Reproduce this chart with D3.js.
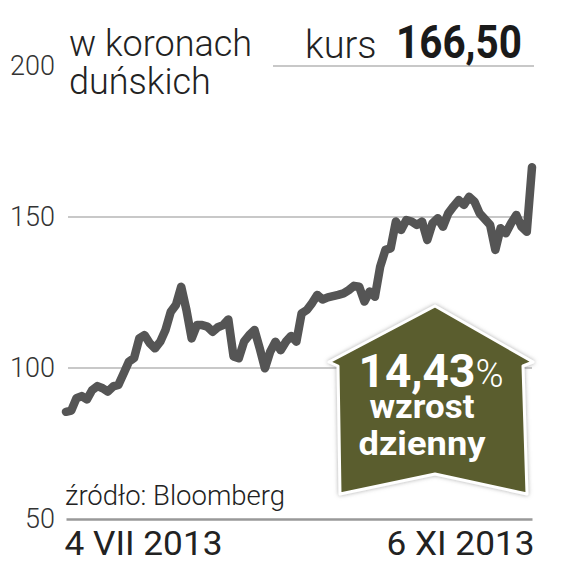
<!DOCTYPE html>
<html>
<head>
<meta charset="utf-8">
<script src="https://cdn.jsdelivr.net/npm/d3@7"></script>
<style>
  body { margin: 0; background: #fff; }
  svg { display: block; }
  text { font-family: Roboto, "DejaVu Sans", sans-serif; }
</style>
</head>
<body>
<div id="chart"></div>
<script>
// daily close, DKK, 4 VII 2013 .. 6 XI 2013
const values = [
  85.5, 85.9, 90.0, 90.7, 89.6, 92.7, 94.0, 93.3, 92.2, 93.9,
  94.4, 98.2, 102.1, 103.3, 109.8, 110.9, 108.2, 106.5, 108.7, 112.6,
  118.6, 120.9, 126.9, 119.2, 109.8, 114.2, 114.2, 113.7, 112.0, 113.5,
  114.2, 116.1, 103.8, 103.2, 108.7, 110.9, 112.6, 106.5, 99.9, 105.4,
  108.7, 105.9, 108.7, 110.6, 108.7, 118.1, 119.2, 121.5, 124.2, 122.7,
  123.4, 123.8, 124.2, 124.7, 125.8, 127.2, 126.9, 122.0, 125.3, 123.6,
  133.5, 139.1, 139.6, 148.5, 145.7, 149.0, 148.5, 147.4, 148.5, 142.4,
  147.9, 149.6, 146.8, 151.2, 153.5, 155.6, 154.0, 156.7, 155.1, 151.2,
  149.3, 147.4, 139.1, 146.3, 144.6, 147.9, 150.7, 146.8, 145.1, 166.5
];
const yTicks = [50, 100, 150, 200];
const dateLabels = ["4 VII 2013", "6 XI 2013"];
const unitLabel = ["w koronach", "duńskich"];
const priceLabel = "kurs";
const priceValue = "166,50";
const changeValue = "14,43";
const changeLabel = ["wzrost", "dzienny"];
const sourceLabel = "źródło: Bloomberg";

const width = 576, height = 570;

const svg = d3.select("#chart")
  .append("svg")
    .attr("width", width)
    .attr("height", height);

const x = d3.scaleLinear()
  .domain([0, values.length - 1])
  .range([66, 532]);

const y = d3.scaleLinear()
  .domain([50, 200])
  .range([519, 66]);

// gridlines (200 starts right of the title)
svg.append("g")
  .selectAll("line")
  .data(yTicks.slice(1))
  .join("line")
    .attr("x1", d => d == 200 ? 273 : 68)
    .attr("x2", d => d == 200 ? 534 : 532)
    .attr("y1", d => y(d))
    .attr("y2", d => y(d))
    .attr("stroke", "#c8c8c8")
    .attr("stroke-width", 2);

// y labels
const yAxis = svg.append("g")
  .attr("transform", "translate(55,0)")
  .call(d3.axisLeft(y).tickValues(yTicks).tickSize(0).tickPadding(0));
yAxis.select(".domain").remove();
yAxis.selectAll("text")
  .attr("font-family", "Roboto, sans-serif")
  .attr("font-size", 27)
  .attr("font-weight", 300)
  .attr("fill", "#333");

// x axis with first / last date
const xAxis = svg.append("g")
  .attr("transform", "translate(0," + y(50) + ")")
  .call(d3.axisBottom(x)
    .tickValues([0, values.length - 1])
    .tickFormat((d, i) => dateLabels[i])
    .tickSize(0));
xAxis.select(".domain")
  .attr("stroke", "#999")
  .attr("stroke-width", 2.5);
xAxis.selectAll("text")
  .attr("font-family", "Roboto, sans-serif")
  .attr("font-size", 33)
  .attr("fill", "#222")
  .attr("y", 36)
  .attr("dy", 0)
  .attr("text-anchor", (d, i) => i == 0 ? "start" : "end")
  .attr("dx", (d, i) => i == 0 ? -2 : 2)
  .attr("textLength", (d, i) => i == 0 ? 158 : 148)
  .attr("lengthAdjust", "spacingAndGlyphs");

// price line
const line = d3.line()
  .x((d, i) => x(i))
  .y(d => y(d));

svg.append("path")
  .datum(values)
  .attr("d", line)
  .attr("fill", "none")
  .attr("stroke", "#555")
  .attr("stroke-width", 8.5)
  .attr("stroke-linejoin", "round")
  .attr("stroke-linecap", "round");

// title
svg.append("text")
  .attr("x", 69)
  .attr("font-size", 36)
  .attr("font-weight", 300)
  .attr("fill", "#222")
  .selectAll("tspan")
  .data(unitLabel)
  .join("tspan")
    .attr("x", 69)
    .attr("y", (d, i) => 56 + i * 38)
    .text(d => d);

svg.append("text")
  .attr("x", 305)
  .attr("y", 58)
  .attr("font-size", 38)
  .attr("font-weight", 300)
  .attr("fill", "#222")
  .text(priceLabel);

svg.append("text")
  .attr("x", 396)
  .attr("y", 58)
  .attr("font-size", 47)
  .attr("font-weight", 700)
  .attr("fill", "#1a1a1a")
  .attr("textLength", 126)
  .attr("lengthAdjust", "spacingAndGlyphs")
  .text(priceValue);

// source
svg.append("text")
  .attr("x", 65)
  .attr("y", 505)
  .attr("font-size", 27)
  .attr("font-weight", 300)
  .attr("fill", "#222")
  .attr("textLength", 220)
  .attr("lengthAdjust", "spacingAndGlyphs")
  .text(sourceLabel);

// badge
const defs = svg.append("defs");
const f = defs.append("filter")
  .attr("id", "shadow")
  .attr("x", "-10%").attr("y", "-10%")
  .attr("width", "120%").attr("height", "120%");
f.append("feDropShadow")
  .attr("dx", 0).attr("dy", 0)
  .attr("stdDeviation", 2)
  .attr("flood-color", "#888")
  .attr("flood-opacity", 0.7);

const badge = svg.append("g");
badge.append("path")
  .attr("d", "M435,306 L533,362 L523,366 L527,494 L435,474 L340,494 L338,366 L329,362 Z")
  .attr("fill", "#5a5d2d")
  .attr("stroke", "#fff")
  .attr("stroke-width", 3)
  .attr("stroke-linejoin", "round")
  .attr("filter", "url(#shadow)");

const pct = badge.append("text")
  .attr("x", 431)
  .attr("y", 387)
  .attr("text-anchor", "middle")
  .attr("fill", "#fff");
pct.append("tspan")
  .attr("font-size", 46)
  .attr("font-weight", 700)
  .text(changeValue);
pct.append("tspan")
  .attr("font-size", 38)
  .attr("font-weight", 300)
  .text("%");

badge.append("g")
  .selectAll("text")
  .data(changeLabel)
  .join("text")
    .attr("x", 422)
    .attr("y", (d, i) => 418 + i * 37)
    .attr("text-anchor", "middle")
    .attr("font-size", 34)
    .attr("font-weight", 700)
    .attr("fill", "#fff")
    .attr("textLength", (d, i) => i == 0 ? 105 : 127)
    .attr("lengthAdjust", "spacingAndGlyphs")
    .text(d => d);
</script>
</body>
</html>
